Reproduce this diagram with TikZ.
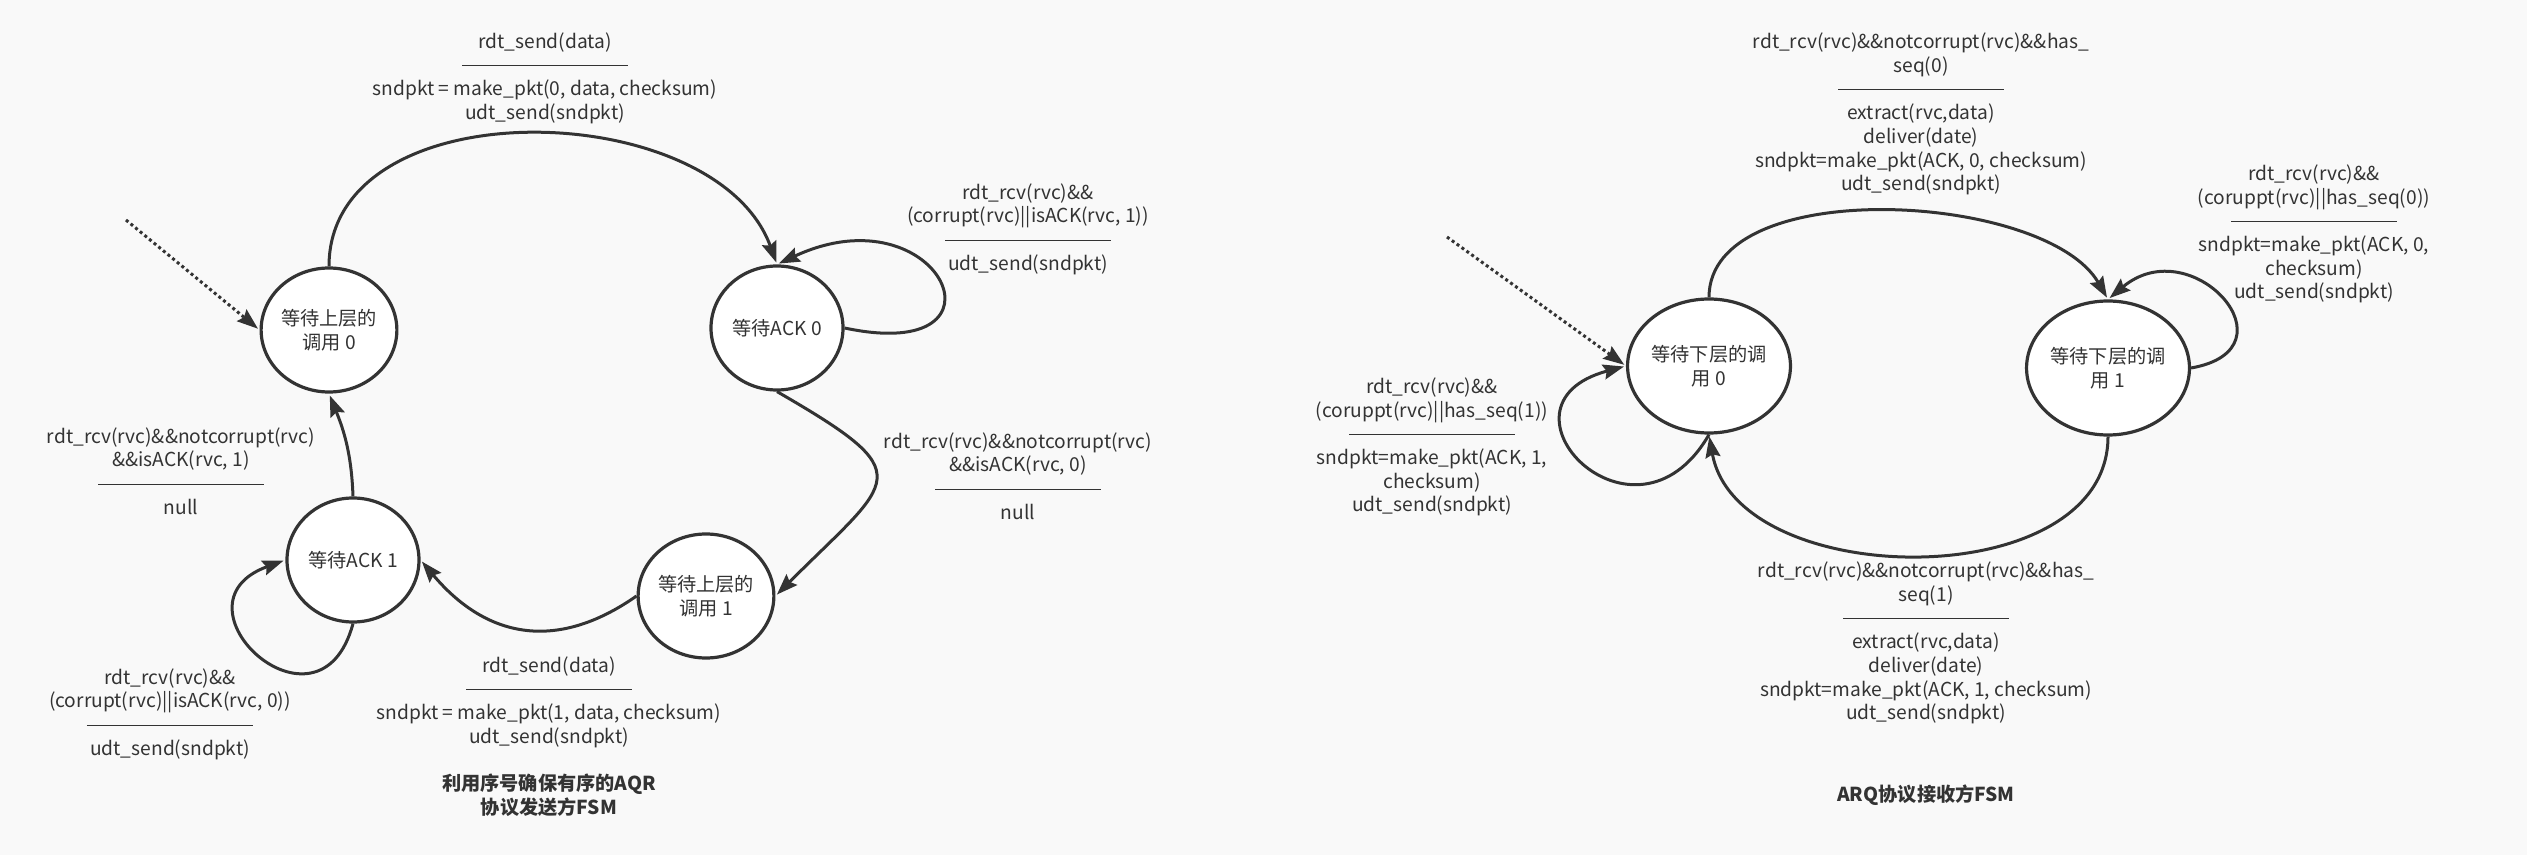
\documentclass[tikz,border=0pt]{standalone}
\usepackage{fontspec}
\setmainfont{Noto Sans CJK SC}
\usetikzlibrary{arrows.meta,shapes.geometric,automata}

\definecolor{ink}{HTML}{333333}
\definecolor{paper}{HTML}{F9F9F9}
\newcommand{\labelrule}{\rule[3pt]{83pt}{0.5pt}}

\begin{document}
\begin{tikzpicture}[x=0.5pt,y=-0.5pt,>={Stealth[length=10.5pt,width=7.5pt,inset=1.5pt]},shorten >=1pt,auto,
    line width=1.5pt,color=ink,font=\fontsize{9.6}{11.85}\selectfont]
  \tikzset{every state/.style={ellipse,draw=ink,fill=white,line width=1.6pt,inner sep=0pt,align=center,minimum width=66pt,minimum height=62pt},
    wide state/.style={minimum width=71pt,minimum height=67pt},
    lbl/.style={align=center,inner sep=0pt},
    ttl/.style={align=center,inner sep=0pt,font=\fontsize{9.6}{11.85}\selectfont\bfseries},
    initline/.style={dash pattern=on 1.5pt off 1.5pt,line width=1.5pt}}
  \fill[paper] (0,0) rectangle (2527,855);
  \useasboundingbox (0,0) rectangle (2527,855);

  % sender
  \node[state] (A) at (329,330) {等待上层的\\调用 0};
  \node[state] (B) at (777,328) {等待ACK 0};
  \node[state] (C) at (353,560) {等待ACK 1};
  \node[state] (D) at (706,596) {等待上层的\\调用 1};
  \coordinate (a0) at (126,220);

  \node[lbl] (lAB) at (545,78) {rdt\_send(data)\\\labelrule\\sndpkt = make\_pkt(0, data, checksum)\\udt\_send(sndpkt)};
  \node[lbl] (lBB) at (1028,229) {rdt\_rcv(rvc)\&\&\\(corrupt(rvc)||isACK(rvc, 1))\\\labelrule\\udt\_send(sndpkt)};
  \node[lbl] (lBD) at (1018,476) {rdt\_rcv(rvc)\&\&notcorrupt(rvc)\\\&\&isACK(rvc, 0)\\\labelrule\\null};
  \node[lbl] (lCA) at (181,471) {rdt\_rcv(rvc)\&\&notcorrupt(rvc)\\\&\&isACK(rvc, 1)\\\labelrule\\null};
  \node[lbl] (lCC) at (170,714) {rdt\_rcv(rvc)\&\&\\(corrupt(rvc)||isACK(rvc, 0))\\\labelrule\\udt\_send(sndpkt)};
  \node[lbl] (lDC) at (549,702) {rdt\_send(data)\\\labelrule\\sndpkt = make\_pkt(1, data, checksum)\\udt\_send(sndpkt)};
  \node[ttl] (tS) at (549,795) {利用序号确保有序的AQR\\协议发送方FSM};

  \path[->] (a0) edge[initline] (A.west)
    (A.north) edge[out=90,in=110,distance=90pt] (B.north)
    (B.east) edge[out=-12,in=25,distance=90pt] (B.north)
    (B.south) edge[out=-30,in=45,distance=84pt] (D.east)
    (D.west) edge[out=-145,in=-50,distance=50pt] (C.east)
    (C.north) edge[out=92,in=-68] (A.south)
    (C.south) edge[out=-105,in=-160,distance=65pt] (C.west);

  % receiver
  \node[state,wide state] (E) at (1709,366) {等待下层的调\\用 0};
  \node[state,wide state] (F) at (2108,368) {等待下层的调\\用 1};
  \coordinate (e0) at (1447,237);

  \node[lbl] (lEF) at (1921,114) {rdt\_rcv(rvc)\&\&notcorrupt(rvc)\&\&has\_\\seq(0)\\\labelrule\\extract(rvc,data)\\deliver(date)\\sndpkt=make\_pkt(ACK, 0, checksum)\\udt\_send(sndpkt)};
  \node[lbl] (lFF) at (2314,234) {rdt\_rcv(rvc)\&\&\\(coruppt(rvc)||has\_seq(0))\\\labelrule\\sndpkt=make\_pkt(ACK, 0,\\checksum)\\udt\_send(sndpkt)};
  \node[lbl] (lEE) at (1432,447) {rdt\_rcv(rvc)\&\&\\(coruppt(rvc)||has\_seq(1))\\\labelrule\\sndpkt=make\_pkt(ACK, 1,\\checksum)\\udt\_send(sndpkt)};
  \node[lbl] (lFE) at (1926,643) {rdt\_rcv(rvc)\&\&notcorrupt(rvc)\&\&has\_\\seq(1)\\\labelrule\\extract(rvc,data)\\deliver(date)\\sndpkt=make\_pkt(ACK, 1, checksum)\\udt\_send(sndpkt)};
  \node[ttl] (tR) at (1926,795) {ARQ协议接收方FSM};

  \path[->] (e0) edge[initline] (E.west)
    (E.north) edge[out=90,in=120,distance=62pt] (F.north)
    (F.east) edge[out=10,in=40,distance=55pt] (F.north)
    (F.south) edge[out=-90,in=-80,distance=80pt] (E.south)
    (E.south) edge[out=-120,in=-165,distance=75pt] (E.west);
\end{tikzpicture}
\end{document}
